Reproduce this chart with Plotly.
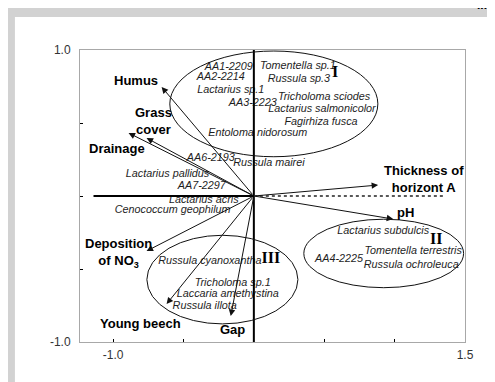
import plotly.graph_objects as go

# species scores (CCA ordination)
species = ["AA1-2209", "AA2-2214", "Lactarius sp.1", "AA3-2223", "Tomentella sp.1",
           "Russula sp.3", "Tricholoma sciodes", "Lactarius salmonicolor", "Fagirhiza fusca",
           "Entoloma nidorosum", "AA6-2193", "Russula mairei", "Lactarius pallidus",
           "AA7-2297", "Lactarius acris", "Cenococcum geophilum", "Russula cyanoxantha",
           "Tricholoma sp.1", "Laccaria amethystina", "Russula illota", "Lactarius subdulcis",
           "AA4-2225", "Tomentella terrestris", "Russula ochroleuca"]
species_x = [-0.178, -0.235, -0.164, -0.007, 0.313, 0.320, 0.499, 0.484, 0.477,
             0.028, -0.306, 0.107, -0.613, -0.370, -0.356, -0.577, -0.313,
             -0.150, -0.185, -0.349, 0.919, 0.605, 1.132, 1.118]
species_y = [0.884, 0.815, 0.726, 0.637, 0.890, 0.801, 0.678, 0.596, 0.507,
             0.432, 0.260, 0.226, 0.151, 0.068, -0.027, -0.096, -0.445,
             -0.596, -0.671, -0.753, -0.240, -0.432, -0.377, -0.473]

# environmental variables (biplot arrows)
env_vars = ["Humus", "Grass<br>cover", "Drainage", "Thickness of<br>horizont A", "pH",
            "Deposition<br>of NO<sub>3</sub>", "Young beech", "Gap"]
env_x = [-0.655, -0.762, -0.890, 0.883, 0.990, -0.762, -0.620, -0.164]
env_y = [0.747, 0.397, 0.432, 0.075, -0.158, -0.377, -0.740, -0.822]

# species groups
groups = ["I", "II", "III"]
group_x = [0.577, 1.296, 0.121]
group_y = [0.842, -0.301, -0.432]
group_x0 = [-0.597, 0.355, -0.760]
group_x1 = [0.881, 1.490, 0.313]
group_y0 = [0.269, -0.628, -0.876]
group_y1 = [0.993, -0.159, -0.269]

# label placement for the arrows
env_lab_x = [-0.840, -0.716, -0.969, 1.211, 1.075, -0.962, -0.805, -0.150]
env_lab_y = [0.788, 0.514, 0.322, 0.116, -0.116, -0.390, -0.870, -0.911]

fig = go.Figure()

fig.add_trace(go.Scatter(
    x=species_x, y=species_y, text=species, mode="text",
    textfont=dict(family="Liberation Sans", size=10.8, color="#1e1e1e", style="italic"),
    hoverinfo="skip", showlegend=False))

fig.add_trace(go.Scatter(
    x=group_x, y=group_y, text=groups, mode="text",
    textfont=dict(family="Liberation Serif", size=16, color="black", weight="bold"),
    hoverinfo="skip", showlegend=False))

shapes = [
    # grey strips of the scanned page
    dict(type="rect", xref="paper", yref="paper", x0=-0.2, x1=1.2, y0=1.113, y1=1.2,
         fillcolor="#d2d2d2", line_width=0, layer="below"),
    dict(type="rect", xref="paper", yref="paper", x0=-0.2, x1=-0.169, y0=-0.2, y1=1.2,
         fillcolor="#d2d2d2", line_width=0, layer="below"),
    # zero axes
    dict(type="line", x0=0, x1=0, y0=-1.01, y1=1.0, line=dict(color="black", width=2)),
    dict(type="line", x0=-1.139, x1=0, y0=0, y1=0, line=dict(color="black", width=2)),
    dict(type="line", x0=0, x1=1.36, y0=0, y1=0, line=dict(color="#222", width=1.5, dash="dot")),
]
for i in range(len(groups)):
    shapes.append(dict(type="circle", x0=group_x0[i], x1=group_x1[i],
                       y0=group_y0[i], y1=group_y1[i], line=dict(color="#111", width=1)))

annotations = []
for i in range(len(env_vars)):
    annotations.append(dict(x=env_x[i], y=env_y[i], ax=0, ay=0, axref="x", ayref="y",
                            xref="x", yref="y", text="", showarrow=True,
                            arrowhead=2, arrowsize=1.3, arrowwidth=1, arrowcolor="#111"))
    annotations.append(dict(x=env_lab_x[i], y=env_lab_y[i], text=env_vars[i], showarrow=False,
                            font=dict(family="Liberation Sans", size=13, color="black",
                                      weight="bold")))
annotations.append(dict(x=1.08, y=1.125, xref="paper", yref="paper", text="IIIII",
                        xanchor="right", yanchor="bottom", showarrow=False,
                        font=dict(family="Liberation Sans", size=12, color="black",
                                  weight="bold")))

fig.update_layout(
    width=495, height=382,
    margin=dict(l=72, r=38, t=42, b=48, autoexpand=False),
    paper_bgcolor="white", plot_bgcolor="white",
    shapes=shapes, annotations=annotations,
    font=dict(family="Liberation Sans", size=12, color="#333"),
)
fig.update_xaxes(range=[-1.235, 1.5], tickvals=[-1.0, -0.5, 0, 0.5, 1.0, 1.5],
                 ticktext=["-1.0", "", "", "", "", "1.5"], ticks="inside", ticklen=3,
                 tickcolor="black", showgrid=False, zeroline=False, showline=True,
                 linecolor="#a8a8a8", linewidth=1, mirror=True, ticklabelstandoff=2,
                 automargin=False)
fig.update_yaxes(range=[-1.0, 1.0], tickvals=[-1.0, -0.5, 0, 0.5, 1.0],
                 ticktext=["-1.0", "", "", "", "1.0"], ticks="inside", ticklen=3,
                 tickcolor="black", showgrid=False, zeroline=False, showline=True,
                 linecolor="#a8a8a8", linewidth=1, mirror=True, ticklabelstandoff=6,
                 automargin=False)

fig.write_html("out.html")
